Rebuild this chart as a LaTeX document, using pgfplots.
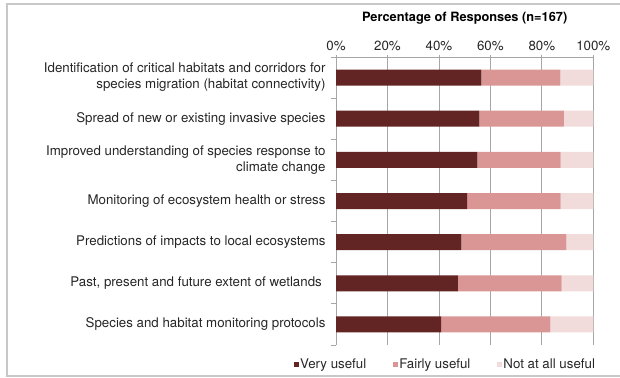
\documentclass[border=0pt]{standalone}
\usepackage{fontspec}
\setmainfont{TeX Gyre Heros}
\usepackage{pgfplots}
\pgfplotsset{compat=1.18}
\definecolor{vu}{HTML}{632523}
\definecolor{fu}{HTML}{D99694}
\definecolor{nu}{HTML}{F2DCDB}
\definecolor{txt}{HTML}{262626}
\definecolor{grd}{HTML}{A6A6A6}
\definecolor{frm}{HTML}{C8C8C8}
\begin{document}
\begin{tikzpicture}[x=1bp,y=1bp]
\path[use as bounding box] (0,0) rectangle (620,377);
\draw[color=frm, line width=1.6bp] (621,373) -- (7,373) -- (7,1) -- (621,1);
\begin{axis}[
  at={(336bp,32bp)}, anchor=south west,
  scale only axis, width=257.3bp, height=288bp,
  xbar stacked, bar width=16bp,
  xmin=0, xmax=100, ymin=-0.5, ymax=6.5,
  y dir=reverse,
  /pgf/number format/assume math mode=true,
  separate axis lines,
  axis x line*=top, axis y line*=left,
  axis line style={draw=grd, line width=0.8bp},
  xmajorgrids, grid style={draw=grd, line width=0.8bp},
  xtick={0,20,...,100},
  xticklabel={\pgfmathprintnumber{\tick}\%},
  xticklabel pos=upper,
  xtick align=center,
  major tick length=5bp,
  tick style={draw=grd, line width=0.8bp},
  ytick={-0.5,0.5,...,6.5}, yticklabels={},
  ytick align=outside,
  extra y ticks={0,1,2,3,4,5,6},
  extra y tick labels={{Identification of critical habitats and corridors for\\species migration (habitat connectivity)},
    {Spread of new or existing invasive species},
    {Improved understanding of species response to\\climate change},
    {Monitoring of ecosystem health or stress},
    {Predictions of impacts to local ecosystems},
    {Past, present and future extent of wetlands },
    {Species and habitat monitoring protocols}},
  extra y tick style={major tick length=0pt, grid=none,
    yticklabel style={align=right, xshift=-7bp}},
  tick label style={font=\fontsize{13.3bp}{16bp}\selectfont, text=txt},
  title={\textbf{Percentage of Responses (n=167)}},
  title style={font=\fontsize{12.8bp}{15bp}\selectfont, text=black, at={(axis description cs:0.5,1)}, anchor=base, yshift=29.5bp},
  legend columns=-1,
  legend style={draw=none, fill=none, at={(axis description cs:-0.175,-0.068)}, anchor=west,
    font=\fontsize{13.3bp}{16bp}\selectfont, text=txt,
    nodes={inner xsep=1bp, inner ysep=0bp},
    /tikz/every even column/.append style={column sep=26bp}},
  legend image code/.code={\fill[#1, draw=none] (0bp,-2.5bp) rectangle (5bp,2.5bp);},
]
\addplot[fill=vu, draw=none] coordinates {(56.5,0) (55.7,1) (54.9,2) (51.0,3) (48.7,4) (47.4,5) (40.9,6)};
\addplot[fill=fu, draw=none] coordinates {(30.7,0) (32.9,1) (32.4,2) (36.3,3) (40.8,4) (40.3,5) (42.4,6)};
\addplot[fill=nu, draw=none] coordinates {(12.8,0) (11.4,1) (12.7,2) (12.7,3) (10.5,4) (12.3,5) (16.7,6)};
\legend{Very useful, Fairly useful, Not at all useful}
\end{axis}
\end{tikzpicture}
\end{document}
